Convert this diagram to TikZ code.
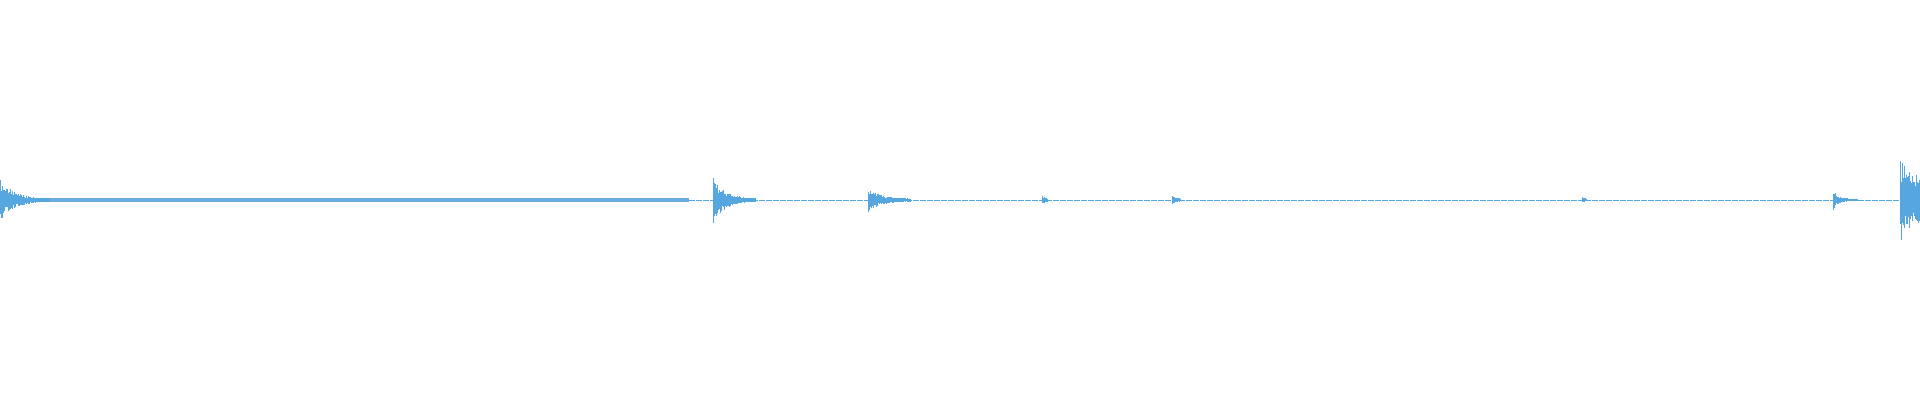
\documentclass[tikz,border=0pt]{standalone}
\definecolor{wave}{RGB}{86,166,224}
\begin{document}
\begin{tikzpicture}[x=1pt,y=1pt,wv/.style={draw=wave,line width=0.7pt}]
\useasboundingbox (0,0) rectangle (1920,400);
\pgfmathsetseed{7}
\coordinate (c0) at (0,200);
% thin baseline
\draw[wave,line width=0.6pt,dash pattern=on 6pt off 1pt] (689,200) -- (1920,200);
% steady noise band
\fill[wave!90] (0,198.4) rectangle (689,201.8);
% bursts: x, amplitude, decay, length
\foreach \bx/\ba/\bd/\bl in {0/20/20/70, 713/24/16/60, 868/11/18/60, 1042/4/4/8, 1172/4/5/12, 1582/2/3/6, 1833/10/6/35, 1900/44/40/28}{
  \foreach \i in {0,...,\bl}{
    \pgfmathsetmacro{\h}{1.2+\ba*exp(-\i/\bd)*(0.35+0.65*rnd)}
    \pgfmathsetmacro{\hb}{1.2+\ba*exp(-\i/\bd)*(0.35+0.65*rnd)}
    \draw[wv] (\bx+\i*0.7,200+\h) -- (\bx+\i*0.7,200-\hb);
  }
}
\end{tikzpicture}
\end{document}
